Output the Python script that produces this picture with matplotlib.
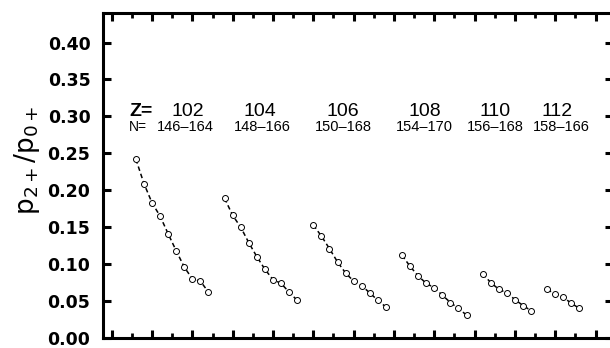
import numpy as np
import matplotlib
matplotlib.use('Agg')
import matplotlib.pyplot as plt
from matplotlib.ticker import MultipleLocator

# proton numbers, neutron ranges and ratio values for each chain
z_vals = [102, 104, 106, 108, 110, 112]
n_ranges = ['146–164', '148–166', '150–168', '154–170', '156–168', '158–166']
x_start = [3, 14, 25, 36, 46, 54]

ratio_102 = [0.242, 0.209, 0.183, 0.165, 0.141, 0.118, 0.096, 0.080, 0.077, 0.062]
ratio_104 = [0.189, 0.166, 0.150, 0.129, 0.110, 0.093, 0.079, 0.074, 0.062, 0.051]
ratio_106 = [0.153, 0.138, 0.121, 0.103, 0.088, 0.077, 0.071, 0.061, 0.051, 0.042]
ratio_108 = [0.112, 0.097, 0.084, 0.074, 0.068, 0.058, 0.048, 0.040, 0.031]
ratio_110 = [0.087, 0.075, 0.066, 0.061, 0.052, 0.044, 0.037]
ratio_112 = [0.066, 0.059, 0.055, 0.047, 0.040]
ratios = [ratio_102, ratio_104, ratio_106, ratio_108, ratio_110, ratio_112]

# label placement (x in axis units)
z_label_x = [9.4, 18.4, 28.7, 38.8, 47.5, 55.2]
n_label_x = [9.1, 18.7, 28.7, 38.8, 47.6, 55.7]


def main():
	fig = plt.figure(figsize=(6.1, 3.48), dpi=100)
	ax = fig.add_axes([103/610, 10/348, 509.5/610, 325/348])

	for x0, r in zip(x_start, ratios):
		x = x0 + np.arange(len(r))
		ax.plot(x, r, color='black', ls=(0, (3, 2)), lw=1.1,
				marker='o', ms=4.3, mfc='white', mec='black', mew=0.7)

	ax.text(2.2, 0.306, 'Z=', fontsize=14, fontfamily='Liberation Sans',
			fontweight='bold', va='center', ha='left')
	ax.text(2.1, 0.285, 'N=', fontsize=10, fontfamily='Liberation Sans',
			va='center', ha='left')
	for xz, xn, z, n in zip(z_label_x, n_label_x, z_vals, n_ranges):
		ax.text(xz, 0.306, str(z), fontsize=14, fontfamily='Liberation Sans',
				va='center', ha='center')
		ax.text(xn, 0.285, n, fontsize=10.5, fontfamily='Liberation Sans',
				va='center', ha='center')

	ax.set_xlim(-1.08, 62.1)
	ax.set_ylim(0, 0.44)
	ax.xaxis.set_major_locator(MultipleLocator(5))
	ax.xaxis.set_minor_locator(MultipleLocator(2.5))
	ax.yaxis.set_major_locator(MultipleLocator(0.05))
	ax.set_xticklabels([])
	ax.yaxis.set_major_formatter(plt.FormatStrFormatter('%.2f'))

	ax.tick_params(which='major', direction='in', length=6, width=2.2,
				   top=True, right=True, pad=9)
	ax.tick_params(which='minor', direction='in', length=3.5, width=2,
				   top=True, right=False)
	ax.tick_params(axis='y', which='minor', left=False, right=False)
	for lab in ax.get_yticklabels():
		lab.set_fontweight('bold')
		lab.set_fontsize(12.5)
	for s in ax.spines.values():
		s.set_linewidth(2.2)

	fig.text(27/610, 188/348, r'$\mathregular{p_{2+}/p_{0+}}$', rotation=90,
			 fontsize=19, ha='center', va='center')

	fig.savefig('out.png', dpi=100)


if __name__ == '__main__':
	main()
